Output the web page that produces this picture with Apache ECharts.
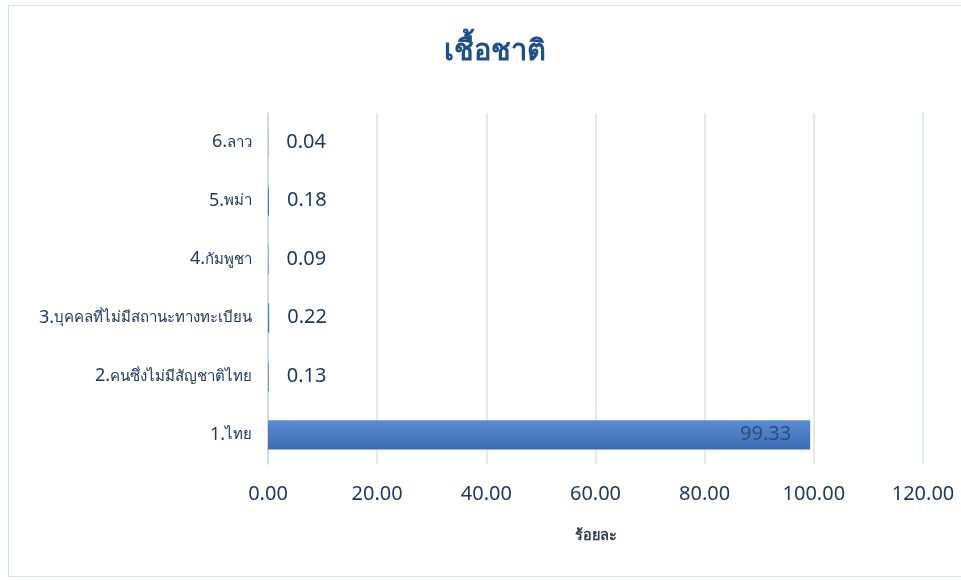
<!DOCTYPE html>
<html><head><meta charset="utf-8">
<script src="https://cdn.jsdelivr.net/npm/echarts@6/dist/echarts.min.js"></script>
<style>
html,body{margin:0;padding:0;background:#fff;}
#frame{position:absolute;left:8px;top:5px;width:960px;height:572px;border:1px solid #D6DEEA;box-sizing:border-box;}
#c{position:absolute;left:0;top:0;width:961px;height:580px;}
</style></head>
<body><div id="frame"></div><div id="c"></div>
<script>
var titleText = 'เชื้อชาติ';
var categories = ['1.ไทย', '2.คนซึ่งไม่มีสัญชาติไทย', '3.บุคคลที่ไม่มีสถานะทางทะเบียน', '4.กัมพูชา', '5.พม่า', '6.ลาว'];
var values = [99.33, 0.13, 0.22, 0.09, 0.18, 0.04];
var axisName = 'ร้อยละ';
var axisMin = 0, axisMax = 120, axisStep = 20;

var chart = echarts.init(document.getElementById('c'));
var font = '"Noto Sans", sans-serif';
chart.setOption({
  animation: false,
  title: {text: titleText, left: 490, textAlign: 'center', top: 32, textStyle: {fontSize: 29, fontWeight: 'bold', color: '#1F4E8C', fontFamily: font}},
  grid: {left: 268, right: 38, top: 113, bottom: 116, containLabel: false},
  xAxis: {
    type: 'value', min: axisMin, max: axisMax, interval: axisStep,
    name: axisName, nameLocation: 'middle', nameGap: 64,
    nameTextStyle: {fontSize: 14.5, fontWeight: 'bold', color: '#333F50', fontFamily: font},
    axisLine: {show: false}, axisTick: {show: false},
    axisLabel: {fontSize: 20, color: '#1F3864', margin: 20, fontFamily: font, formatter: function(v){return v.toFixed(2);}},
    splitLine: {lineStyle: {color: '#D9E2F1', width: 1.5}}
  },
  yAxis: {
    type: 'category', data: categories,
    axisLine: {show: true, lineStyle: {color: '#C9D6EA', width: 1.5}}, axisTick: {show: false},
    axisLabel: {
      margin: 16,
      formatter: function(v){ var i = v.indexOf('.') + 1; return '{n|' + v.slice(0, i) + '}{t|' + v.slice(i) + '}'; },
      rich: {
        n: {fontSize: 18, color: '#1F3864', fontFamily: font},
        t: {fontSize: 15, color: '#1F3864', fontFamily: font}
      }
    }
  },
  series: [{
    type: 'bar', barWidth: '50%',
    data: values.map(function(v){
      return {value: v, label: v > 50 ? {position: 'insideRight', distance: 19, color: '#2E4B78'} : {position: 'right', distance: 18}};
    }),
    itemStyle: {color: new echarts.graphic.LinearGradient(0,0,0,1,[{offset:0,color:'#5B8DD3'},{offset:1,color:'#3A6CB4'}])},
    label: {show: true, fontSize: 20, color: '#1F3864', fontFamily: font, formatter: function(p){return p.value.toFixed(2);}}
  }]
});
</script></body></html>
